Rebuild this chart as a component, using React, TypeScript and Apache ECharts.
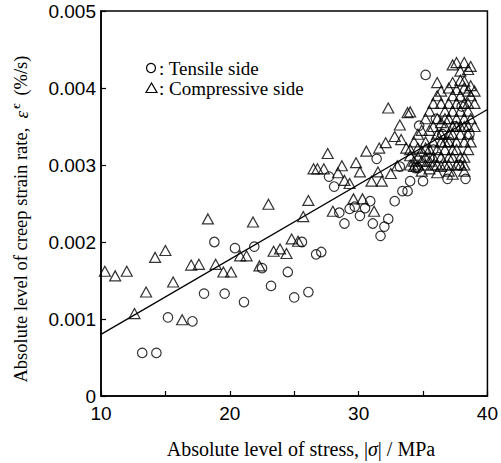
import React, { useEffect, useRef } from "react";
import * as echarts from "echarts";

// Tensile side (circles): [stress MPa, strain rate %/s]
const tensileX = [13.2, 14.3, 15.2, 17.1, 18.0, 18.8, 19.6, 20.4, 21.1, 21.9, 22.5, 23.2, 24.5, 25.0, 25.6, 26.1, 26.7, 27.1, 27.7, 28.1, 28.5, 28.9, 29.3, 29.7, 30.1, 30.5, 30.9, 31.1, 31.7, 32.0, 32.3, 32.8, 33.2, 33.4, 33.8, 34.0, 31.4, 35.0, 34.4, 34.6, 35.5, 34.7, 35.2, 38.0, 36.9, 38.3, 36.2, 37.0, 37.5, 36.5, 35.8, 38.6, 37.8, 36.0];
const tensileY = [0.00056, 0.00056, 0.00102, 0.00097, 0.00133, 0.0020, 0.00133, 0.00192, 0.00122, 0.00194, 0.00166, 0.00143, 0.00161, 0.00128, 0.0020, 0.00135, 0.00184, 0.00187, 0.00285, 0.00272, 0.00238, 0.00224, 0.00243, 0.00246, 0.00234, 0.00244, 0.00253, 0.00224, 0.00208, 0.0022, 0.0023, 0.00253, 0.00298, 0.00266, 0.00266, 0.00279, 0.00308, 0.00279, 0.00296, 0.00296, 0.00309, 0.00351, 0.00417, 0.00376, 0.00282, 0.00282, 0.0031, 0.0033, 0.0035, 0.0034, 0.0032, 0.0034, 0.0030, 0.0036];

// Compressive side (triangles)
const compX = [10.3, 11.1, 12.0, 12.6, 13.5, 14.2, 15.0, 15.6, 16.3, 17.0, 17.6, 18.3, 18.9, 19.5, 20.1, 20.8, 21.3, 21.8, 22.3, 23.0, 23.4, 23.9, 24.4, 24.8, 25.3, 25.7, 26.1, 26.5, 26.8, 27.3, 27.6, 28.0, 28.4, 28.7, 29.8, 30.1, 28.9, 29.3, 29.6, 30.3, 30.6, 31.0, 31.2, 31.5, 31.6, 31.8, 32.1, 32.3, 32.5, 32.8, 33.0, 33.2, 33.3, 33.7, 33.8,
  34.0, 34.0, 34.0, 34.0,
  34.3, 34.3, 34.3,
  34.6, 34.6, 34.6, 34.6,
  34.9, 34.9, 34.9, 34.9,
  35.2, 35.2, 35.2, 35.2, 35.2,
  35.5, 35.5, 35.5, 35.5, 35.5,
  35.8, 35.8, 35.8, 35.8, 35.8,
  36.1, 36.1, 36.1, 36.1, 36.1, 36.1, 36.1,
  36.4, 36.4, 36.4, 36.4, 36.4, 36.4, 36.4,
  36.7, 36.7, 36.7, 36.7, 36.7, 36.7,
  37.0, 37.0, 37.0, 37.0, 37.0, 37.0, 37.0, 37.0,
  37.3, 37.3, 37.3, 37.3, 37.3, 37.3, 37.3, 37.3, 37.3,
  37.6, 37.6, 37.6, 37.6, 37.6, 37.6, 37.6, 37.6,
  37.9, 37.9, 37.9, 37.9, 37.9, 37.9, 37.9, 37.9,
  38.2, 38.2, 38.2, 38.2, 38.2, 38.2, 38.2, 38.2, 38.2, 38.2,
  38.5, 38.5, 38.5, 38.5, 38.5, 38.5, 38.5,
  38.7, 38.7, 38.7, 38.7, 38.7,
  39.0, 39.0, 39.0];
const compY = [0.00162, 0.00156, 0.00162, 0.00107, 0.00135, 0.0018, 0.00189, 0.00148, 0.00099, 0.0017, 0.00171, 0.0023, 0.00171, 0.00161, 0.00161, 0.00182, 0.00182, 0.00226, 0.00169, 0.00249, 0.00188, 0.00191, 0.00185, 0.00204, 0.00201, 0.00233, 0.00254, 0.00295, 0.00295, 0.00295, 0.00315, 0.0024, 0.0029, 0.00299, 0.00303, 0.00291, 0.0028, 0.00276, 0.00256, 0.00256, 0.00318, 0.00279, 0.0024, 0.00291, 0.00322, 0.00279, 0.00329, 0.00374, 0.00289, 0.00337, 0.00299, 0.00352, 0.00333, 0.00322, 0.00368,
  0.00369, 0.0032, 0.0030, 0.00312,
  0.0033, 0.00305, 0.00298,
  0.0034, 0.0031, 0.00322, 0.0030,
  0.00345, 0.00318, 0.00305, 0.00292,
  0.0036, 0.0033, 0.0031, 0.0030, 0.00322,
  0.0037, 0.00345, 0.0032, 0.00305, 0.00295,
  0.0038, 0.0035, 0.0033, 0.0031, 0.0030,
  0.00407, 0.0039, 0.0036, 0.0034, 0.0032, 0.0030, 0.0029,
  0.00396, 0.0038, 0.00355, 0.0034, 0.0033, 0.0031, 0.00298,
  0.0037, 0.0036, 0.0035, 0.0033, 0.0032, 0.0030,
  0.0040, 0.0038, 0.0036, 0.0034, 0.0033, 0.0031, 0.0030, 0.00292,
  0.0043, 0.00407, 0.0039, 0.0037, 0.0035, 0.0034, 0.0032, 0.0031, 0.00288,
  0.00433, 0.00398, 0.0038, 0.0036, 0.0035, 0.0033, 0.0032, 0.0030,
  0.00422, 0.0041, 0.0039, 0.0037, 0.0035, 0.0034, 0.0031, 0.0030,
  0.00433, 0.00409, 0.0040, 0.0038, 0.0036, 0.0035, 0.0033, 0.0031, 0.0030, 0.00292,
  0.00424, 0.00396, 0.0038, 0.0037, 0.0035, 0.0034, 0.0032,
  0.00428, 0.00403, 0.0039, 0.0036, 0.0033,
  0.00396, 0.0038, 0.0035];

// Regression line end points
const fitX = [10, 40];
const fitY = [0.0008, 0.00372];

const legendTensile = ": Tensile side";
const legendComp = ": Compressive side";

export default function App() {
  const ref = useRef<HTMLDivElement>(null);
  useEffect(() => {
    if (!ref.current) return;
    const chart = echarts.init(ref.current, null, { renderer: "svg" });
    const serif = "Liberation Serif";
    const sans = "Liberation Sans";
    chart.setOption({
      animation: false,
      backgroundColor: "#fff",
      grid: { left: 101, right: 13, top: 11, bottom: 67, show: true, borderColor: "#000", borderWidth: 1.5, backgroundColor: "transparent" },
      xAxis: {
        type: "value", min: 10, max: 40, interval: 5,
        axisLine: { show: true, lineStyle: { color: "#000", width: 1.5 } },
        axisTick: { show: true, inside: true, length: 5, lineStyle: { color: "#000", width: 1.2 } },
        axisLabel: {
          color: "#000", fontFamily: sans, fontSize: 19, margin: 8,
          formatter: (v: number) => (v % 10 === 0 ? String(v) : ""),
        },
        splitLine: { show: false },
      },
      yAxis: {
        type: "value", min: 0, max: 0.005, interval: 0.001,
        axisLine: { show: true, lineStyle: { color: "#000", width: 1.5 } },
        axisTick: { show: true, inside: true, length: 5, lineStyle: { color: "#000", width: 1.2 } },
        axisLabel: {
          color: "#000", fontFamily: sans, fontSize: 19, margin: 5,
          formatter: (v: number) => (v === 0 ? "0" : v.toFixed(3)),
        },
        splitLine: { show: false },
      },
      graphic: [
        {
          type: "text", x: 301, y: 449,
          style: {
            text: "{a|Absolute level of stress, |}{i|σ}{a|| / MPa}",
            fill: "#000", align: "center", verticalAlign: "middle",
            rich: {
              a: { font: `20px "${serif}"`, fill: "#000" },
              i: { font: `italic 20px "${serif}"`, fill: "#000" },
            },
          },
        },
        {
          type: "text", x: 21, y: 219, rotation: Math.PI / 2,
          style: {
            text: "{a|Absolute level of creep strain rate,  }{b|ε̇}{c|c}{a| (%/s)}",
            fill: "#000", align: "center", verticalAlign: "middle",
            rich: {
              a: { font: `18.5px "${serif}"`, fill: "#000" },
              b: { font: `italic 19px "${serif}"`, fill: "#000" },
              c: { font: `13px "${serif}"`, fill: "#000", padding: [0, 3, 12, 2] },
            },
          },
        },
        { type: "circle", shape: { cx: 151, cy: 68, r: 4.5 }, style: { fill: "none", stroke: "#000", lineWidth: 1.2 } },
        { type: "text", x: 159, y: 68, style: { text: legendTensile, font: `19px "${serif}"`, fill: "#000", verticalAlign: "middle" } },
        { type: "polygon", shape: { points: [[151.5, 83], [146, 92.5], [157, 92.5]] }, style: { fill: "none", stroke: "#000", lineWidth: 1.2 } },
        { type: "text", x: 159, y: 88, style: { text: legendComp, font: `19px "${serif}"`, fill: "#000", verticalAlign: "middle" } },
      ],
      series: [
        {
          type: "scatter", symbol: "circle", symbolSize: 9.5,
          data: tensileX.map((x, i) => [x, tensileY[i]]),
          itemStyle: { color: "rgba(255,255,255,0)", borderColor: "#000", borderWidth: 1.2 },
        },
        {
          type: "scatter", symbol: "triangle", symbolSize: [11, 10],
          data: compX.map((x, i) => [x, compY[i]]),
          itemStyle: { color: "rgba(255,255,255,0)", borderColor: "#000", borderWidth: 1.2 },
        },
        {
          type: "line", symbol: "none",
          data: fitX.map((x, i) => [x, fitY[i]]),
          lineStyle: { color: "#000", width: 1.3 },
        },
      ],
    });
    return () => chart.dispose();
  }, []);
  return <div ref={ref} style={{ position: "fixed", left: 0, top: 0, width: 501, height: 463 }} />;
}
